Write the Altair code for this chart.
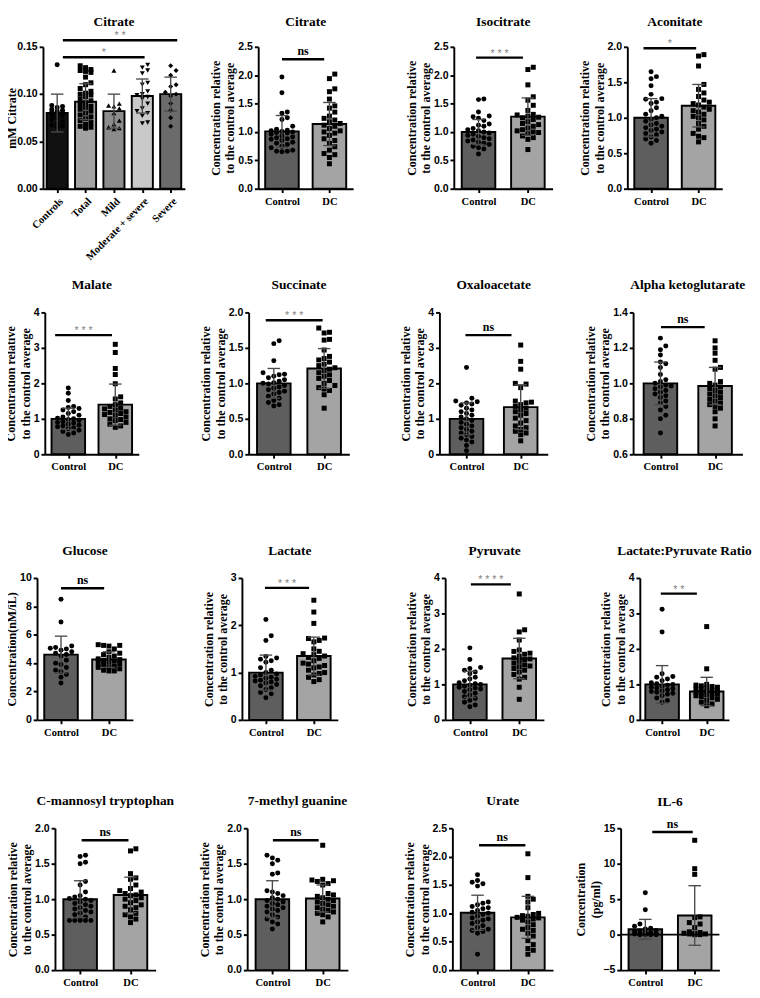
import json
import numpy as np
import pandas as pd
import altair as alt

SERIF = "Liberation Serif, Times New Roman, DejaVu Serif, serif"
SANS = "Liberation Sans, Arial, DejaVu Sans, sans-serif"
REL = ["Concentration relative", "to the control average"]
TWO = ["Control", "DC"]
CTRL_FILL = "#5e5e5e"
DC_FILL = "#a4a4a4"
ERR = "#4a4a4a"

# ---------------- data ----------------
# Panel 1: Citrate (mM)
cit_groups = ["Controls", "Total", "Mild", "Moderate + severe", "Severe"]
cit_means = [0.080, 0.092, 0.082, 0.098, 0.100]
cit_sds = [0.020, 0.019, 0.018, 0.018, 0.018]
cit_controls = [0.131, 0.088, 0.087, 0.086, 0.084, 0.083, 0.082, 0.081, 0.080, 0.079,
                0.078, 0.077, 0.075, 0.073, 0.071, 0.069, 0.067, 0.066, 0.065]
cit_total = [0.130, 0.128, 0.126, 0.125, 0.124, 0.123, 0.118, 0.112, 0.110, 0.106, 0.103,
             0.101, 0.100, 0.099, 0.097, 0.095, 0.093, 0.091, 0.089, 0.087, 0.086, 0.084,
             0.082, 0.080, 0.078, 0.076, 0.074, 0.072, 0.070, 0.068, 0.066, 0.065, 0.064]
cit_mild = [0.125, 0.090, 0.088, 0.087, 0.085, 0.080, 0.072, 0.068, 0.065, 0.064, 0.063]
cit_modsev = [0.131, 0.128, 0.125, 0.122, 0.112, 0.110, 0.103, 0.100, 0.099, 0.097, 0.095,
              0.090, 0.085, 0.082, 0.080, 0.077, 0.070, 0.069]
cit_severe = [0.130, 0.125, 0.120, 0.110, 0.108, 0.102, 0.100, 0.098, 0.090, 0.083, 0.075, 0.066]

# Citrate (relative)
citrel_means = [1.01, 1.14]
citrel_sds = [0.28, 0.38]
citrel_ctrl = [1.97, 1.69, 1.35, 1.33, 1.25, 1.22, 1.10, 1.05, 1.03, 1.02, 1.01, 1.00, 0.99, 0.98,
               0.96, 0.93, 0.91, 0.90, 0.88, 0.87, 0.85, 0.82, 0.80, 0.78, 0.75, 0.72, 0.68, 0.66,
               0.65, 0.66]
citrel_dc = [2.02, 1.94, 1.76, 1.71, 1.58, 1.46, 1.42, 1.35, 1.28, 1.24, 1.21, 1.18, 1.15, 1.12,
             1.10, 1.06, 1.02, 1.00, 0.98, 0.94, 0.88, 0.85, 0.80, 0.74, 0.68, 0.62, 0.60, 0.55, 0.44]

# Isocitrate
iso_means = [1.00, 1.27]
iso_sds = [0.22, 0.33]
iso_ctrl = [1.58, 1.57, 1.35, 1.28, 1.27, 1.24, 1.20, 1.14, 1.12, 1.10, 1.06, 1.04, 1.02, 1.00,
            0.98, 0.96, 0.94, 0.92, 0.90, 0.88, 0.86, 0.84, 0.82, 0.80, 0.78, 0.75, 0.72, 0.70, 0.61]
iso_dc = [2.14, 2.10, 1.83, 1.62, 1.56, 1.47, 1.38, 1.31, 1.30, 1.28, 1.26, 1.25, 1.22, 1.18,
          1.15, 1.13, 1.10, 1.07, 1.04, 1.02, 1.00, 0.99, 0.97, 0.93, 0.90, 0.87, 0.69]

# Aconitate
aco_means = [1.00, 1.17]
aco_sds = [0.27, 0.30]
aco_ctrl = [1.65, 1.58, 1.55, 1.45, 1.33, 1.27, 1.26, 1.22, 1.20, 1.14, 1.10, 1.05, 1.02, 1.00,
            0.98, 0.95, 0.92, 0.90, 0.88, 0.86, 0.84, 0.82, 0.80, 0.78, 0.76, 0.73, 0.70, 0.68, 0.64]
aco_dc = [1.89, 1.87, 1.73, 1.47, 1.40, 1.35, 1.30, 1.25, 1.22, 1.20, 1.18, 1.15, 1.12, 1.10,
          1.08, 1.05, 1.02, 1.00, 0.97, 0.92, 0.88, 0.84, 0.78, 0.74, 0.72, 0.66]

# Malate
mal_means = [1.00, 1.40]
mal_sds = [0.30, 0.58]
mal_ctrl = [1.87, 1.72, 1.52, 1.35, 1.32, 1.29, 1.25, 1.20, 1.15, 1.10, 1.05, 1.02, 1.00, 0.98,
            0.95, 0.92, 0.90, 0.88, 0.85, 0.82, 0.80, 0.78, 0.75, 0.72, 0.68, 0.64, 0.60, 0.56]
mal_dc = [3.10, 2.87, 2.42, 2.25, 1.99, 1.62, 1.56, 1.45, 1.40, 1.35, 1.30, 1.28, 1.25, 1.20,
          1.18, 1.15, 1.12, 1.10, 1.05, 1.00, 0.98, 0.95, 0.90, 0.85, 0.80, 0.76]

# Succinate
suc_means = [1.00, 1.21]
suc_sds = [0.21, 0.28]
suc_ctrl = [1.60, 1.56, 1.32, 1.15, 1.13, 1.12, 1.10, 1.08, 1.05, 1.03, 1.01, 1.00, 0.99, 0.97,
            0.95, 0.93, 0.91, 0.89, 0.87, 0.85, 0.82, 0.79, 0.76, 0.73, 0.70, 0.68]
suc_dc = [1.78, 1.72, 1.71, 1.62, 1.61, 1.47, 1.38, 1.35, 1.33, 1.30, 1.27, 1.25, 1.22, 1.20,
          1.18, 1.15, 1.12, 1.10, 1.07, 1.04, 1.00, 0.97, 0.94, 0.92, 0.90, 0.84, 0.65]

# Oxaloacetate
oxa_means = [1.00, 1.33]
oxa_sds = [0.45, 0.63]
oxa_ctrl = [2.45, 1.58, 1.50, 1.48, 1.45, 1.42, 1.38, 1.30, 1.25, 1.20, 1.15, 1.10, 1.05, 1.00,
            0.95, 0.90, 0.85, 0.80, 0.75, 0.70, 0.65, 0.60, 0.55, 0.50, 0.45, 0.40, 0.35, 0.25, 0.10]
oxa_dc = [3.08, 2.62, 2.40, 2.00, 1.98, 1.88, 1.50, 1.47, 1.45, 1.40, 1.35, 1.30, 1.25, 1.20,
          1.15, 1.10, 1.02, 0.95, 0.88, 0.80, 0.75, 0.70, 0.65, 0.60, 0.55, 0.38]

# Alpha ketoglutarate
akg_means = [1.00, 0.985]
akg_sds = [0.12, 0.105]
akg_ctrl = [1.255, 1.21, 1.19, 1.16, 1.12, 1.11, 1.09, 1.05, 1.02, 1.01, 1.00, 0.99, 0.985, 0.98,
            0.97, 0.96, 0.95, 0.94, 0.93, 0.92, 0.90, 0.89, 0.87, 0.85, 0.82, 0.80, 0.72]
akg_dc = [1.24, 1.20, 1.17, 1.13, 1.09, 1.08, 1.01, 1.00, 0.99, 0.98, 0.97, 0.96, 0.95, 0.94,
          0.93, 0.92, 0.91, 0.90, 0.89, 0.88, 0.87, 0.86, 0.84, 0.80, 0.76]

# Glucose
glu_means = [4.6, 4.25]
glu_sds = [1.3, 0.55]
glu_ctrl = [8.5, 6.9, 5.2, 5.1, 5.05, 5.0, 4.9, 4.8, 4.7, 4.6, 4.5, 4.2, 4.0, 3.9, 3.7, 3.5,
            3.4, 3.2, 3.0, 2.6]
glu_dc = [5.3, 5.25, 5.25, 5.2, 5.0, 4.8, 4.7, 4.6, 4.5, 4.4, 4.3, 4.25, 4.2, 4.15, 4.1, 4.0,
          3.95, 3.9, 3.8, 3.75, 3.7, 3.6, 3.5, 3.45, 3.45]

# Lactate
lac_means = [1.00, 1.35]
lac_sds = [0.37, 0.40]
lac_ctrl = [2.12, 1.78, 1.68, 1.34, 1.31, 1.28, 1.25, 1.22, 1.10, 1.05, 1.00, 0.97, 0.95, 0.92,
            0.90, 0.88, 0.86, 0.84, 0.82, 0.80, 0.78, 0.75, 0.72, 0.68, 0.64, 0.58, 0.55, 0.47]
lac_dc = [2.53, 2.28, 2.04, 1.73, 1.72, 1.68, 1.65, 1.50, 1.45, 1.40, 1.38, 1.35, 1.32, 1.30,
          1.25, 1.20, 1.18, 1.15, 1.12, 1.10, 1.05, 1.00, 0.98, 0.95, 0.90, 0.85, 0.81]

# Pyruvate
pyr_means = [1.00, 1.73]
pyr_sds = [0.37, 0.57]
pyr_ctrl = [2.03, 1.70, 1.48, 1.45, 1.40, 1.35, 1.30, 1.20, 1.15, 1.10, 1.05, 1.02, 1.00, 0.98,
            0.95, 0.92, 0.90, 0.87, 0.85, 0.80, 0.75, 0.70, 0.65, 0.60, 0.55, 0.50, 0.42, 0.37]
pyr_dc = [3.55, 2.54, 2.48, 2.25, 1.97, 1.93, 1.88, 1.85, 1.80, 1.75, 1.72, 1.70, 1.65, 1.60,
          1.55, 1.52, 1.50, 1.45, 1.40, 1.35, 1.28, 1.20, 1.15, 0.92, 0.58]

# Lactate:Pyruvate Ratio
lpr_means = [1.00, 0.80]
lpr_sds = [0.53, 0.40]
lpr_ctrl = [3.12, 2.48, 1.30, 1.22, 1.20, 1.15, 1.10, 1.05, 1.02, 1.00, 0.98, 0.95, 0.92, 0.90,
            0.88, 0.85, 0.82, 0.80, 0.78, 0.75, 0.72, 0.68, 0.62, 0.55, 0.50]
lpr_dc = [2.63, 1.44, 1.00, 0.98, 0.96, 0.94, 0.92, 0.90, 0.88, 0.86, 0.84, 0.82, 0.80, 0.78,
          0.76, 0.74, 0.72, 0.70, 0.68, 0.65, 0.62, 0.58, 0.55, 0.50, 0.45, 0.40]

# C-mannosyl tryptophan
cmt_means = [1.00, 1.06]
cmt_sds = [0.26, 0.25]
cmt_ctrl = [1.62, 1.60, 1.52, 1.50, 1.25, 1.20, 1.10, 1.05, 1.03, 1.01, 1.00, 0.98, 0.96, 0.94,
            0.92, 0.90, 0.88, 0.86, 0.84, 0.82, 0.80, 0.78, 0.75, 0.72, 0.70, 0.70, 0.70, 0.70, 0.70]
cmt_dc = [1.71, 1.68, 1.36, 1.30, 1.28, 1.20, 1.15, 1.12, 1.10, 1.08, 1.06, 1.05, 1.02, 1.00,
          0.98, 0.95, 0.92, 0.90, 0.88, 0.85, 0.80, 0.78, 0.75, 0.72, 0.67]

# 7-methyl guanine
mg_means = [1.00, 1.01]
mg_sds = [0.26, 0.19]
mg_ctrl = [1.62, 1.58, 1.55, 1.50, 1.37, 1.35, 1.12, 1.10, 1.08, 1.05, 1.02, 1.00, 0.98, 0.96,
           0.94, 0.92, 0.90, 0.88, 0.86, 0.84, 0.82, 0.78, 0.75, 0.72, 0.68, 0.65, 0.58]
mg_dc = [1.76, 1.28, 1.27, 1.26, 1.25, 1.22, 1.20, 1.08, 1.06, 1.04, 1.02, 1.00, 0.98, 0.96,
         0.94, 0.92, 0.90, 0.88, 0.86, 0.84, 0.82, 0.80, 0.78, 0.75, 0.68]

# Urate
ura_means = [1.01, 0.93]
ura_sds = [0.31, 0.37]
ura_ctrl = [1.68, 1.58, 1.55, 1.52, 1.48, 1.20, 1.18, 1.15, 1.12, 1.10, 1.08, 1.05, 1.02, 1.00,
            0.98, 0.95, 0.92, 0.90, 0.88, 0.85, 0.82, 0.78, 0.75, 0.72, 0.70, 0.68, 0.65, 0.28]
ura_dc = [2.05, 1.63, 1.30, 1.25, 1.20, 1.10, 1.00, 0.98, 0.96, 0.95, 0.93, 0.92, 0.90, 0.88,
          0.85, 0.80, 0.75, 0.72, 0.70, 0.65, 0.60, 0.52, 0.45, 0.38, 0.35, 0.28]

# IL-6
il6_means = [0.75, 2.7]
il6_sds = [1.4, 4.2]
il6_ctrl = [5.9, 3.5, 1.5, 1.2, 0.9, 0.8, 0.6, 0.5, 0.4, 0.3, 0.3, 0.2, 0.2, 0.1, 0.1, 0.1,
            0.0, 0.0, 0.0, 0.0]
il6_dc = [13.3, 9.3, 8.5, 2.5, 2.4, 1.7, 1.5, 1.0, 0.4, 0.3, 0.2, 0.2, 0.1, 0.1, 0.0, 0.0]


# ---------------- helpers ----------------
def swarm(vals, ppu, step_px, half_px, d=5.6):
    """Horizontal offsets (in x units) so that dots do not overlap."""
    cands = [0.0]
    k = 1
    while k * d <= half_px + 0.01:
        cands += [k * d, -k * d]
        k += 1
    placed = []
    res = [0.0] * len(vals)
    for idx in sorted(range(len(vals)), key=lambda j: vals[j]):
        y = vals[idx] * ppu
        best, bestd = 0.0, -1.0
        for c in cands:
            md = min([np.hypot(c - px, y - py) for px, py in placed] or [1e9])
            if md >= d * 0.97:
                best = c
                break
            if md > bestd:
                bestd, best = md, c
        placed.append((best, y))
        res[idx] = best / step_px
    return res


def panel(title, groups, means, sds, samples, shapes, fills, ymin, ymax, ticks, fmt,
          ytitle, sigs, width, height=148, rotate=False, zero_line=False,
          bar_px=35.0, base_offset=15, title_pad=1, title_x=None):
    n = len(groups)
    step = width / n
    ppu = height / (ymax - ymin)
    half = bar_px / 2 / step
    cap = 6.5 / step
    bars = pd.DataFrame({"i": list(range(n)), "mean": means, "sd": sds, "fill": fills})
    bars["x1"] = bars["i"] - half
    bars["x2"] = bars["i"] + half
    bars["base"] = ymin
    bars["lo"] = bars["mean"] - bars["sd"]
    bars["hi"] = bars["mean"] + bars["sd"]
    bars["c1"] = bars["i"] - cap
    bars["c2"] = bars["i"] + cap

    rows = []
    for i, (vals, shp) in enumerate(zip(samples, shapes)):
        offs = swarm(vals, ppu, step, bar_px / 2 - 2.5)
        for v, o in zip(vals, offs):
            rows.append({"xp": i + o, "v": v, "shape": shp})
    pts = pd.DataFrame(rows)

    xs = alt.Scale(domain=[-0.5, n - 0.5], nice=False, zero=False)
    ys = alt.Scale(domain=[ymin, ymax], nice=False, zero=False)
    xaxis = alt.Axis(values=list(range(n)), labelExpr=json.dumps(groups) + "[datum.value]",
                     title=None, grid=False, domainWidth=2, domainColor="black",
                     tickColor="black", tickWidth=2, tickSize=4,
                     labelFont=SERIF, labelFontWeight="bold", labelFontSize=11,
                     labelColor="black", labelAngle=-45 if rotate else 0,
                     labelAlign="right" if rotate else "center",
                     labelBaseline="top", labelPadding=3, labelFlush=False,
                     labelOverlap=False, labelLimit=200)
    ykw = dict(values=ticks, format=fmt, title=ytitle, grid=False,
               domainWidth=2, domainColor="black", tickColor="black",
               tickWidth=2, tickSize=4, labelFont=SANS, labelFontWeight="bold",
               labelFontSize=11, labelColor="black", labelPadding=2,
               labelFlush=False, labelOverlap=False,
               titleFont=SERIF, titleFontWeight="bold", titleFontSize=12.5,
               titleColor="black", titleLineHeight=15, titlePadding=title_pad)
    if title_x is not None:
        ykw.update(titleX=title_x, titleBaseline="bottom")
    yaxis = alt.Axis(**ykw)

    def X(f):
        return alt.X(f, scale=xs, axis=xaxis)

    def Y(f):
        return alt.Y(f, scale=ys, axis=yaxis)

    bar = alt.Chart(bars).mark_bar(stroke="black", strokeWidth=2).encode(
        x=X("x1:Q"), x2="x2:Q", y=Y("base:Q"), y2="mean:Q",
        fill=alt.Fill("fill:N", scale=None))
    dots = alt.Chart(pts).mark_point(filled=True, opacity=1, color="black", size=27,
                                     strokeWidth=0).encode(
        x=X("xp:Q"), y=Y("v:Q"), shape=alt.Shape("shape:N", scale=None))
    err = alt.Chart(bars).mark_rule(color=ERR, strokeWidth=1.4).encode(
        x=X("i:Q"), y=Y("lo:Q"), y2="hi:Q")
    cap_hi = alt.Chart(bars).mark_rule(color=ERR, strokeWidth=1.4).encode(
        x=X("c1:Q"), x2="c2:Q", y=Y("hi:Q"))
    cap_lo = alt.Chart(bars).mark_rule(color=ERR, strokeWidth=1.4).encode(
        x=X("c1:Q"), x2="c2:Q", y=Y("lo:Q"))

    sdf = pd.DataFrame(sigs, columns=["sx1", "sx2", "sy", "lab"])
    sdf["sxm"] = (sdf["sx1"] + sdf["sx2"]) / 2
    sig_rule = alt.Chart(sdf).mark_rule(color="black", strokeWidth=2.5).encode(
        x=X("sx1:Q"), x2="sx2:Q", y=Y("sy:Q"))
    ns_df = sdf[sdf["lab"] == "ns"]
    st_df = sdf[sdf["lab"] != "ns"].copy()
    st_df["lab"] = st_df["lab"].apply(lambda s: " ".join(list(s)))
    layers = [bar, dots, err, cap_hi, cap_lo, sig_rule]
    tops = []
    if len(ns_df):
        layers.append(alt.Chart(ns_df).mark_text(font=SERIF, fontWeight="bold", fontSize=12.5,
                                                 color="black", baseline="alphabetic", dy=-4).encode(
            x=X("sxm:Q"), y=Y("sy:Q"), text="lab:N"))
        tops += [(ymax - s) * ppu - 14 for s in ns_df["sy"]]
    if len(st_df):
        layers.append(alt.Chart(st_df).mark_text(font=SANS, fontSize=11, color="#808080",
                                                 baseline="alphabetic", dy=-1).encode(
            x=X("sxm:Q"), y=Y("sy:Q"), text="lab:N"))
        tops += [(ymax - s) * ppu - 10 for s in st_df["sy"]]
    if zero_line:
        zdf = pd.DataFrame({"a": [-0.5], "b": [n - 0.5], "z": [0.0]})
        layers.append(alt.Chart(zdf).mark_rule(color="black", strokeWidth=2).encode(
            x=X("a:Q"), x2="b:Q", y=Y("z:Q")))

    # keep titles level: subtract the part of the significance text above the axis top
    overflow = max(0.0, -5.5 - min(tops))
    tparams = alt.TitleParams(title, font=SERIF, fontSize=14, fontWeight="bold", color="black",
                              anchor="middle", frame="group", offset=base_offset - overflow)
    return alt.layer(*layers).properties(width=width, height=height, title=tparams)


def two(title, means, sds, ctrl, dc, ymin, ymax, ticks, fmt, sig, width, ytitle=REL,
        zero_line=False, base_offset=15):
    return panel(title, TWO, means, sds, [ctrl, dc], ["circle", "square"], [CTRL_FILL, DC_FILL],
                 ymin, ymax, ticks, fmt, ytitle, [sig], width, zero_line=zero_line,
                 base_offset=base_offset)


def spacer():
    return alt.Chart(pd.DataFrame({"a": [0]})).mark_point(opacity=0, size=1).encode(
        x=alt.value(0), y=alt.value(0)).properties(width=1, height=148)


def hrow(items, gaps, lead):
    items = [spacer()] + items
    gaps = [lead] + gaps
    ch = items[0]
    for it, g in zip(items[1:], gaps):
        ch = alt.HConcatChart(hconcat=[ch, it], spacing=g)
    return ch


h05 = [0.0, 0.5, 1.0, 1.5, 2.0, 2.5]
h20 = [0.0, 0.5, 1.0, 1.5, 2.0]
i04 = [0, 1, 2, 3, 4]
R1 = 13  # title offset of the first row

p1 = panel("Citrate", cit_groups, cit_means, cit_sds,
           [cit_controls, cit_total, cit_mild, cit_modsev, cit_severe],
           ["circle", "square", "triangle-up", "triangle-down", "diamond"],
           ["#111111", "#a3a3a3", "#8c8c8c", "#c9c9c9", "#6b6b6b"],
           0.0, 0.15, [0.0, 0.05, 0.10, 0.15], ".2f", "mM Citrate",
           [[0.2, 4.23, 0.157, "**"], [0.2, 3.08, 0.139, "*"]], 148, rotate=True, bar_px=22,
           title_pad=0, base_offset=R1, title_x=-25.5)
p2 = two("Citrate", citrel_means, citrel_sds, citrel_ctrl, citrel_dc, 0, 2.5, h05, ".1f",
         [0.0, 0.89, 2.28, "ns"], 99, base_offset=R1)
p3 = two("Isocitrate", iso_means, iso_sds, iso_ctrl, iso_dc, 0, 2.5, h05, ".1f",
         [-0.05, 0.9, 2.31, "***"], 103, base_offset=R1)
p4 = two("Aconitate", aco_means, aco_sds, aco_ctrl, aco_dc, 0, 2.0, h20, ".1f",
         [-0.16, 0.95, 1.98, "*"], 99, base_offset=R1)

p5 = two("Malate", mal_means, mal_sds, mal_ctrl, mal_dc, 0, 4, i04, "d",
         [-0.28, 0.93, 3.36, "***"], 98)
p6 = two("Succinate", suc_means, suc_sds, suc_ctrl, suc_dc, 0, 2.0, h20, ".1f",
         [-0.16, 0.97, 1.89, "***"], 105)
p7 = two("Oxaloacetate", oxa_means, oxa_sds, oxa_ctrl, oxa_dc, 0, 4, i04, "d",
         [-0.02, 0.83, 3.36, "ns"], 113)
p8 = two("Alpha ketoglutarate", akg_means, akg_sds, akg_ctrl, akg_dc, 0.6, 1.4,
         [0.6, 0.8, 1.0, 1.2, 1.4], ".1f", [0.01, 0.81, 1.317, "ns"], 114)

p9 = two("Glucose", glu_means, glu_sds, glu_ctrl, glu_dc, 0, 10, [0, 2, 4, 6, 8, 10], "d",
         [0.0, 0.9, 9.28, "ns"], 100, ytitle="Concentration(nM/iL)")
p10 = two("Lactate", lac_means, lac_sds, lac_ctrl, lac_dc, 0, 3, [0, 1, 2, 3], "d",
          [-0.02, 0.9, 2.79, "***"], 100)
p11 = two("Pyruvate", pyr_means, pyr_sds, pyr_ctrl, pyr_dc, 0, 4, i04, "d",
          [0.02, 0.83, 3.82, "****"], 103)
p12 = two("Lactate:Pyruvate Ratio", lpr_means, lpr_sds, lpr_ctrl, lpr_dc, 0, 4, i04, "d",
          [-0.03, 0.78, 3.56, "**"], 93)

p13 = two("C-mannosyl tryptophan", cmt_means, cmt_sds, cmt_ctrl, cmt_dc, 0, 2.0, h20, ".1f",
          [0.03, 0.96, 1.83, "ns"], 105)
p14 = two("7-methyl guanine", mg_means, mg_sds, mg_ctrl, mg_dc, 0, 2.0, h20, ".1f",
          [0.01, 0.92, 1.83, "ns"], 105)
p15 = two("Urate", ura_means, ura_sds, ura_ctrl, ura_dc, 0, 2.5, h05, ".1f",
          [0.03, 0.95, 2.2, "ns"], 105)
p16 = two("IL-6", il6_means, il6_sds, il6_ctrl, il6_dc, -5, 15, [-5, 0, 5, 10, 15], "d",
          [0.14, 0.96, 14.46, "ns"], 103, ytitle=["Concentration", "(pg/ml)"], zero_line=True)

r1 = hrow([p1, p2, p3, p4], [25, 54, 27], 3.5)
r2 = hrow([p5, p6, p7, p8], [63, 52, 38], 2.4)
r3 = hrow([p9, p10, p11, p12], [71, 70, 58], 3.3)
r4 = hrow([p13, p14, p15, p16], [24.5, 57.5, 22], 4)

top = alt.VConcatChart(vconcat=[r1, r2], spacing=17)
top = alt.VConcatChart(vconcat=[top, r3], spacing=76)
chart = alt.VConcatChart(vconcat=[top, r4], spacing=60).properties(
    padding={"left": -8, "top": -14, "right": 0, "bottom": 0}, background="white"
).configure_view(stroke=None)

chart.save("out.html", embed_options={"renderer": "svg", "actions": False})
